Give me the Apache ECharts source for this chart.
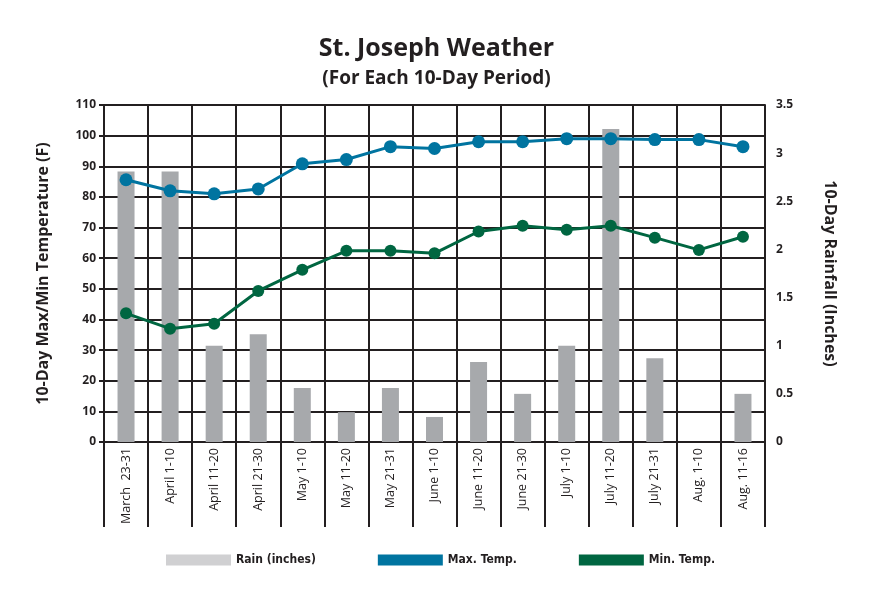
<!DOCTYPE html>
<html>
<head>
<meta charset="utf-8">
<script src="https://cdn.jsdelivr.net/npm/echarts@6/dist/echarts.min.js"></script>
<style>
html,body{margin:0;padding:0;background:#fff;}
#chart{width:873px;height:594px;}
</style>
</head>
<body>
<div id="chart"></div>
<script>
const categories = ['March  23-31','April 1-10','April 11-20','April 21-30','May 1-10','May 11-20','May 21-31','June 1-10','June 11-20','June 21-30','July 1-10','July 11-20','July 21-31','Aug. 1-10','Aug. 11-16'];
const rainInches = [2.81, 2.81, 1.0, 1.12, 0.56, 0.31, 0.56, 0.26, 0.83, 0.50, 1.0, 3.25, 0.87, 0, 0.50];
const maxTemp = [85.6, 82, 81, 82.6, 90.8, 92.2, 96.4, 95.8, 98, 98, 99, 99, 98.7, 98.7, 96.4];
const minTemp = [42, 37, 38.6, 49.3, 56.2, 62.4, 62.4, 61.6, 68.7, 70.6, 69.3, 70.6, 66.7, 62.7, 67];
const tempTicks = {min: 0, max: 110, interval: 10};
const rainTicks = {min: 0, max: 3.5, interval: 0.5};

const ink = '#231f20';
const boldFont = "'Open Sans', 'Noto Sans', sans-serif";
const narrowFont = "'Liberation Sans Narrow', 'DejaVu Sans Condensed', 'Open Sans', sans-serif";
const chart = echarts.init(document.getElementById('chart'));
chart.setOption({
  animation: false,
  backgroundColor: '#fff',
  title: [
    {text: 'St. Joseph Weather', left: 'center', top: 31,
     textStyle: {fontFamily: boldFont, fontWeight: 'bold', fontSize: 25, color: ink}},
    {text: '(For Each 10-Day Period)', left: 'center', top: 64,
     textStyle: {fontFamily: boldFont, fontWeight: 'bold', fontSize: 19, color: ink}}
  ],
  legend: {
    left: 161, top: 549, icon: 'rect', itemWidth: 65, itemHeight: 11, itemGap: 62,
    textStyle: {fontFamily: narrowFont, fontWeight: 'bold', fontSize: 12, color: ink},
    data: [
      {name: 'Rain (inches)', itemStyle: {color: '#d0d0d2'}},
      {name: 'Max. Temp.'},
      {name: 'Min. Temp.'}
    ]
  },
  grid: {left: 104, right: 108, top: 105, bottom: 152},
  xAxis: [
    {
      type: 'category', data: categories, boundaryGap: true, position: 'bottom',
      axisLine: {show: true, lineStyle: {color: ink, width: 2}},
      axisTick: {show: true, interval: 0, length: 85, lineStyle: {color: ink, width: 2}},
      splitLine: {show: true, interval: 0, lineStyle: {color: ink, width: 2}},
      axisLabel: {rotate: 90, interval: 0, margin: 6, fontSize: 12.5, fontFamily: "'Open Sans', sans-serif", color: ink}
    },
    {
      type: 'category', data: categories, position: 'bottom', offset: 85,
      axisLine: {show: true, lineStyle: {color: ink, width: 2}},
      axisTick: {show: false}, axisLabel: {show: false}, splitLine: {show: false}
    }
  ],
  yAxis: [
    {
      type: 'value', position: 'left', min: tempTicks.min, max: tempTicks.max, interval: tempTicks.interval,
      name: '10-Day Max/Min Temperature (F)', nameLocation: 'middle', nameGap: 53,
      nameTextStyle: {fontFamily: boldFont, fontWeight: 'bold', fontSize: 16, color: ink},
      axisLine: {show: true, lineStyle: {color: ink, width: 2}},
      axisTick: {show: true, length: 5, lineStyle: {color: ink, width: 2}},
      splitLine: {show: true, lineStyle: {color: ink, width: 2}},
      axisLabel: {margin: 8, fontFamily: boldFont, fontWeight: 'bold', fontSize: 12, color: ink}
    },
    {
      type: 'value', position: 'right', min: rainTicks.min, max: rainTicks.max, interval: rainTicks.interval,
      name: '10-Day Rainfall (Inches)', nameLocation: 'middle', nameGap: 57, nameRotate: -90,
      nameTextStyle: {fontFamily: boldFont, fontWeight: 'bold', fontSize: 16, color: ink},
      axisLine: {show: true, lineStyle: {color: ink, width: 2}},
      axisTick: {show: false},
      splitLine: {show: false},
      axisLabel: {margin: 11, fontFamily: boldFont, fontWeight: 'bold', fontSize: 12, color: ink}
    }
  ],
  series: [
    {name: 'Rain (inches)', type: 'bar', yAxisIndex: 1, data: rainInches, barWidth: 17,
     itemStyle: {color: '#a7a9ac'}},
    {name: 'Max. Temp.', type: 'line', yAxisIndex: 0, data: maxTemp, symbol: 'circle', symbolSize: 13,
     lineStyle: {color: '#0074a0', width: 3}, itemStyle: {color: '#0074a0'}, z: 5},
    {name: 'Min. Temp.', type: 'line', yAxisIndex: 0, data: minTemp, symbol: 'circle', symbolSize: 12,
     lineStyle: {color: '#006641', width: 3}, itemStyle: {color: '#006641'}, z: 5}
  ]
});
</script>
</body>
</html>
